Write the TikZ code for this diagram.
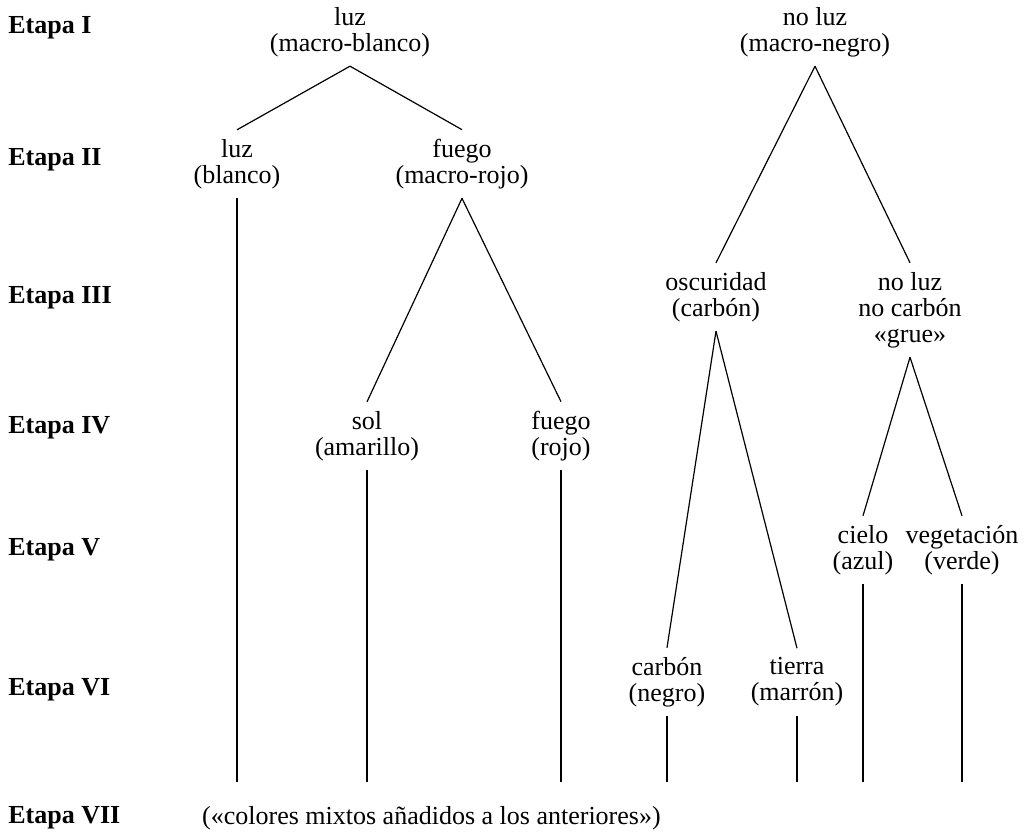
\documentclass[tikz,border=0pt]{standalone}
\usepackage{fontspec}
\setmainfont{Liberation Serif}
\usetikzlibrary{positioning}

\begin{document}
\begin{tikzpicture}[x=0.5pt, y=-0.5pt, font=\fontsize{13}{13}\selectfont]

\tikzstyle{etapa} = [anchor=west, inner sep=0pt, font=\fontsize{13}{13}\selectfont\bfseries]
\tikzstyle{term} = [align=center, inner sep=4.5pt]
\tikzstyle{branch} = [line width=0.6pt]

\useasboundingbox (0,0) rectangle (1029,834);

\node (e1) [etapa] at (8,28) {Etapa I};
\node (e2) [etapa] at (8,160) {Etapa II};
\node (e3) [etapa] at (8,298) {Etapa III};
\node (e4) [etapa] at (8,428) {Etapa IV};
\node (e5) [etapa] at (8,550) {Etapa V};
\node (e6) [etapa] at (8,690) {Etapa VI};
\node (e7) [etapa] at (8,818) {Etapa VII};

\node (macroblanco) [term] at (350,32) {luz\\(macro-blanco)};
\node (macronegro) [term] at (815,32) {no luz\\(macro-negro)};
\node (blanco) [term] at (237,164) {luz\\(blanco)};
\node (macrorojo) [term] at (462,164) {fuego\\(macro-rojo)};
\node (carbon) [term] at (716,297) {oscuridad\\(carbón)};
\node (grue) [term, anchor=north] at (carbon.north -| 910,0) {no luz\\no carbón\\«grue»};
\node (sol) [term] at (367,436) {sol\\(amarillo)};
\node (rojo) [term] at (561,436) {fuego\\(rojo)};
\node (azul) [term] at (863,550) {cielo\\(azul)};
\node (verde) [term] at (962,550) {vegetación\\(verde)};
\node (negro) [term] at (667,682) {carbón\\(negro)};
\node (marron) [term] at (797,682) {tierra\\(marrón)};
\node (mixtos) [term, right=36pt of e7] {(«colores mixtos añadidos a los anteriores»)};

\draw [branch] (macroblanco.south) -- (blanco.north);
\draw [branch] (macroblanco.south) -- (macrorojo.north);
\draw [branch] (macronegro.south) -- (carbon.north);
\draw [branch] (macronegro.south) -- (grue.north);
\draw [branch] (macrorojo.south) -- (sol.north);
\draw [branch] (macrorojo.south) -- (rojo.north);
\draw [branch] (carbon.south) -- (negro.north);
\draw [branch] (carbon.south) -- (marron.north);
\draw [branch] (grue.south) -- (azul.north);
\draw [branch] (grue.south) -- (verde.north);

% leaves drop down to stage VII
\coordinate (floor) at (0,782);
\foreach \leaf in {blanco,sol,rojo,negro,marron,azul,verde}
  \draw [branch] (\leaf.south) -- (\leaf.south |- floor);

\end{tikzpicture}
\end{document}
